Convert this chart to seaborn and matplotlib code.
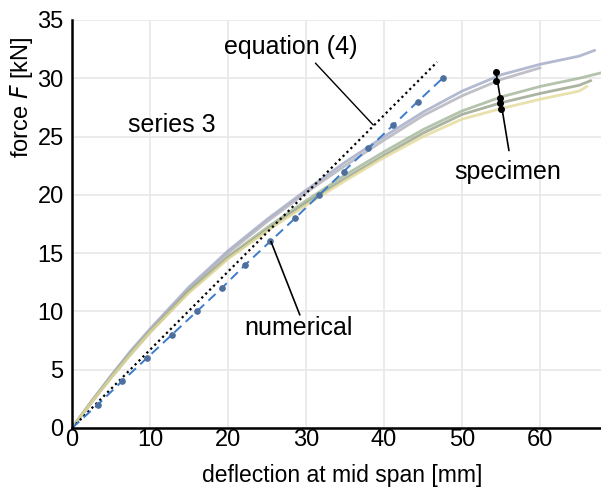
import numpy as np
import pandas as pd
import matplotlib
matplotlib.use('Agg')
import matplotlib.pyplot as plt
import seaborn as sns

sns.set_style("white")
plt.rcParams['font.family'] = ['Liberation Sans', 'DejaVu Sans']
plt.rcParams['text.color'] = 'black'
plt.rcParams['axes.labelcolor'] = 'black'
plt.rcParams['xtick.color'] = 'black'
plt.rcParams['ytick.color'] = 'black'

# specimen test curves (series 3)
spec_a_x = [0, 2.5, 5, 7.5, 10, 15, 20, 25, 30, 35, 40, 45, 50, 55, 60, 65, 67]
spec_a_y = [0, 2.3, 4.5, 6.6, 8.5, 12.1, 15.2, 17.9, 20.4, 22.8, 25.0, 27.1, 28.9, 30.3, 31.2, 31.9, 32.4]
spec_b_x = [0, 2.5, 5, 7.5, 10, 15, 20, 25, 30, 35, 40, 45, 50, 55, 60]
spec_b_y = [0, 2.3, 4.4, 6.5, 8.4, 11.9, 15.0, 17.7, 20.2, 22.5, 24.7, 26.8, 28.5, 29.9, 30.9]
spec_c_x = [0, 2.5, 5, 7.5, 10, 15, 20, 25, 30, 35, 40, 45, 50, 55, 60, 65, 68]
spec_c_y = [0, 2.2, 4.4, 6.4, 8.3, 11.8, 14.7, 17.2, 19.5, 21.7, 23.7, 25.6, 27.2, 28.4, 29.3, 30.0, 30.5]
spec_d_x = [0, 2.5, 5, 7.5, 10, 15, 20, 25, 30, 35, 40, 45, 50, 55, 60, 65, 66.5]
spec_d_y = [0, 2.2, 4.3, 6.3, 8.2, 11.7, 14.6, 17.0, 19.3, 21.4, 23.4, 25.3, 26.9, 27.9, 28.7, 29.4, 29.8]
spec_e_x = [0, 2.5, 5, 7.5, 10, 15, 20, 25, 30, 35, 40, 45, 50, 55, 60, 65, 66]
spec_e_y = [0, 2.2, 4.3, 6.3, 8.2, 11.6, 14.5, 16.9, 19.1, 21.2, 23.2, 25.0, 26.5, 27.4, 28.2, 28.9, 29.3]
spec_colors = ['#a0a8c6', '#b0b0ba', '#a2b496', '#96a28a', '#e4da98']

# numerical model
num_y = [0, 2, 4, 6, 8, 10, 12, 14, 16, 18, 20, 22, 24, 26, 28, 30]
num_x = [0, 3.3, 6.4, 9.6, 12.8, 16.0, 19.2, 22.2, 25.4, 28.6, 31.7, 34.8, 38.0, 41.2, 44.3, 47.5]

# equation (4)
eq_x = [0, 46.8]
eq_y = [0, 31.4]

# specimen leader dots
dot_x = [54.4, 54.4, 54.8, 54.9, 55.0]
dot_y = [30.5, 29.8, 28.3, 27.9, 27.4]

specs = [(spec_a_x, spec_a_y), (spec_b_x, spec_b_y), (spec_c_x, spec_c_y),
         (spec_d_x, spec_d_y), (spec_e_x, spec_e_y)]
rows = []
for i, (xs, ys) in enumerate(specs):
    for xv, yv in zip(xs, ys):
        rows.append({'d': xv, 'F': yv, 'spec': f's{i}'})
df = pd.DataFrame(rows)

fig = plt.figure(figsize=(6.01, 4.88), dpi=100)
ax = fig.add_axes([72/601, 60/488, 529/601, 408/488])

sns.lineplot(data=df, x='d', y='F', hue='spec', palette=spec_colors, lw=2.0,
             alpha=0.8, legend=False, ax=ax, sort=False)
sns.lineplot(x=eq_x, y=eq_y, ax=ax, color='black', lw=1.6, linestyle=(0, (1, 1.5)))
sns.lineplot(x=num_x, y=num_y, ax=ax, color='#3c7ccc', lw=1.4, linestyle=(0, (5, 3)),
             marker='o', markersize=4, markerfacecolor='#4d6f9e', markeredgecolor='#4d6f9e',
             markevery=slice(1, None), sort=False)

# annotations
ax.plot([54.3, 56.0], [30.7, 23.8], color='black', lw=1.2)
ax.scatter(dot_x, dot_y, s=16, color='black', zorder=5)
ax.plot([31.2, 38.6], [31.3, 26.0], color='black', lw=1.0)
ax.plot([25.5, 29.2], [16.0, 9.7], color='black', lw=1.2)

fs = 18
ax.text(28, 32.7, 'equation (4)', fontsize=fs, ha='center', va='center')
ax.text(12.8, 26.0, 'series 3', fontsize=fs, ha='center', va='center')
ax.text(29, 8.6, 'numerical', fontsize=fs, ha='center', va='center')
ax.text(55.8, 22.0, 'specimen', fontsize=fs, ha='center', va='center')

ax.set_xlim(0, 67.8)
ax.set_ylim(0, 35)
ax.set_xticks(range(0, 61, 10))
ax.set_yticks(range(0, 36, 5))
ax.tick_params(labelsize=17, length=0, pad=1)
ax.tick_params(axis='y', pad=6)
ax.grid(True, color='#e8e8e8', lw=1.2)
ax.set_axisbelow(True)
for s in ['top', 'right']:
    ax.spines[s].set_visible(False)
for s in ['left', 'bottom']:
    ax.spines[s].set_color('black')
    ax.spines[s].set_linewidth(1.8)

ax.set_xlabel('deflection at mid span [mm]', fontsize=16.5, labelpad=0)
ax.xaxis.set_label_coords(0.51, -0.088)
ax.set_ylabel('force $F$ [kN]', fontsize=17)
ax.yaxis.set_label_coords(-0.07, 0.81)

fig.savefig('out.png', dpi=100)
